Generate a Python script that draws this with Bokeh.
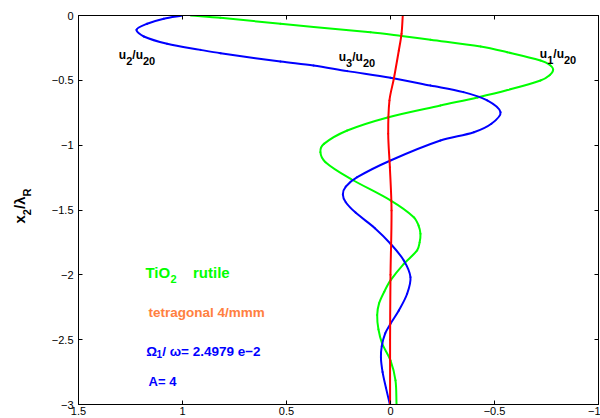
import math
from bokeh.plotting import figure
from bokeh.layouts import row
from bokeh.models import Range1d, FixedTicker, LinearAxis, Label, ColumnDataSource
from bokeh.embed import file_html
from bokeh.resources import INLINE

# ---------------- data ----------------
# u1/u20 (green)
u1_depth = [0, -0.018, -0.064, -0.129, -0.158, -0.187, -0.239, -0.283, -0.347, -0.38,
            -0.419, -0.46, -0.501, -0.575, -0.632, -0.694, -0.786, -0.887, -0.99,
            -1.054, -1.131, -1.259, -1.426, -1.555, -1.62, -1.683, -1.75, -1.812, -1.915,
            -2.043, -2.13, -2.22, -2.31, -2.42, -2.531, -2.66, -2.814, -3.0]
u1_val = [0.96, 0.817, 0.529, 0.096, -0.053, -0.192, -0.433, -0.561, -0.721, -0.765,
          -0.782, -0.765, -0.721, -0.563, -0.418, -0.24, 0.014, 0.208, 0.32,
          0.337, 0.3125, 0.192, 0.0, -0.112, -0.135, -0.144, -0.14, -0.128, -0.064,
          0.0, 0.03, 0.055, 0.064, 0.058, 0.04, 0.0, -0.024, -0.029]

# u2/u20 (blue)
u2_depth = [0, -0.025, -0.064, -0.110, -0.162, -0.218, -0.265, -0.291, -0.355, -0.386,
            -0.429, -0.480, -0.540, -0.591, -0.655, -0.746, -0.835, -0.90, -0.964, -1.118,
            -1.247, -1.32, -1.38, -1.44, -1.52, -1.64, -1.76, -1.889, -2.018, -2.146,
            -2.275, -2.377, -2.45, -2.55, -2.64, -2.75, -2.87, -3.0]
u2_val = [1.0, 1.09, 1.17, 1.221, 1.186, 1.074, 0.913, 0.817, 0.529, 0.37,
          0.208, 0.0, -0.192, -0.351, -0.465, -0.529, -0.485, -0.401, -0.24, 0.0,
          0.16, 0.215, 0.229, 0.215, 0.168, 0.075, 0.0, -0.064, -0.096, -0.08,
          -0.04, 0.0, 0.025, 0.042, 0.046, 0.038, 0.022, 0.003]

# u3/u20 (red)
u3_depth = [0, -0.141, -0.27, -0.488, -0.655, -0.912, -1.17, -1.503, -2.0, -2.5, -3.0]
u3_val = [-0.059, -0.053, -0.04, -0.016, 0.005, 0.011, 0.003, -0.005, 0.0, 0.002, 0.002]

x_ticks = [1.5, 1, 0.5, 0, -0.5, -1]
x_tick_labels = ["1.5", "1", "0.5", "0", "\u22120.5", "\u22121"]
y_ticks = [0, -0.5, -1, -1.5, -2, -2.5, -3]
y_tick_labels = ["0", "\u22120.5", "\u22121", "\u22121.5", "\u22122", "\u22122.5", "\u22123"]

GREEN = "#00ff00"
BLUE = "#0000ff"
RED = "#ff0000"
ORANGE = "#ff8040"
FONT = "Liberation Sans"

LAB_W = 40

# ---------------- main figure ----------------
p = figure(width=600 - LAB_W, height=418, output_backend="svg", toolbar_location=None,
           x_range=Range1d(1.5, -1), y_range=Range1d(-3, 0),
           min_border_left=78 - LAB_W, min_border_right=2, min_border_top=15,
           min_border_bottom=14,
           background_fill_color="white", border_fill_color="white",
           outline_line_color="black", outline_line_width=1)
p.xgrid.visible = False
p.ygrid.visible = False


def style_axis(ax, ticks, labels, show_labels=True):
    ax.ticker = FixedTicker(ticks=ticks)
    ax.major_tick_in = 4
    ax.major_tick_out = 0
    ax.minor_tick_line_color = None
    ax.axis_line_color = "black"
    ax.major_tick_line_color = "black"
    if show_labels:
        ax.major_label_overrides = {t: l for t, l in zip(ticks, labels)}
        ax.major_label_text_font = FONT
        ax.major_label_text_font_size = "11px"
        ax.major_label_text_color = "black"
    else:
        ax.major_label_overrides = {t: "" for t in ticks}
        ax.major_label_text_font_size = "0px"
        ax.major_label_standoff = 0


style_axis(p.xaxis[0], x_ticks, x_tick_labels)
p.xaxis[0].major_label_standoff = 2
style_axis(p.yaxis[0], y_ticks, y_tick_labels)
p.yaxis[0].major_label_standoff = 5

top_ax = LinearAxis()
style_axis(top_ax, x_ticks, x_tick_labels, show_labels=False)
p.add_layout(top_ax, "above")
right_ax = LinearAxis()
style_axis(right_ax, y_ticks, y_tick_labels, show_labels=False)
p.add_layout(right_ax, "right")

# ---------------- smooth curves (bezier through the read points) ----------------
SX, SY = 208.0, 129.7  # approx px per data unit, used only for tangent weighting


def smooth_curve(fig, xs, ys, color):
    P = list(zip(xs, ys))
    n = len(P)

    def dist(a, b):
        return math.hypot((a[0] - b[0]) * SX, (a[1] - b[1]) * SY)

    d = dict(x0=[], y0=[], x1=[], y1=[], cx0=[], cy0=[], cx1=[], cy1=[])
    for i in range(n - 1):
        p0 = P[i - 1] if i > 0 else P[i]
        p1, p2 = P[i], P[i + 1]
        p3 = P[i + 2] if i + 2 < n else P[i + 1]
        d01, d12, d23 = dist(p0, p1), dist(p1, p2), dist(p2, p3)
        f1 = d12 / (3 * (d01 + d12)) if d01 + d12 > 0 else 0
        f2 = d12 / (3 * (d12 + d23)) if d12 + d23 > 0 else 0
        d["x0"].append(p1[0]); d["y0"].append(p1[1])
        d["x1"].append(p2[0]); d["y1"].append(p2[1])
        d["cx0"].append(p1[0] + (p2[0] - p0[0]) * f1)
        d["cy0"].append(p1[1] + (p2[1] - p0[1]) * f1)
        d["cx1"].append(p2[0] - (p3[0] - p1[0]) * f2)
        d["cy1"].append(p2[1] - (p3[1] - p1[1]) * f2)
    fig.bezier(x0="x0", y0="y0", x1="x1", y1="y1", cx0="cx0", cy0="cy0", cx1="cx1", cy1="cy1",
               source=ColumnDataSource(d), line_color=color, line_width=2, line_cap="round")


smooth_curve(p, u1_val, u1_depth, GREEN)
smooth_curve(p, u2_val, u2_depth, BLUE)
smooth_curve(p, u3_val, u3_depth, RED)

# ---------------- rich text helper ----------------
W = {'u': 611, '/': 278, 'x': 556, 'R': 722, '\u03bb': 556, 'T': 611, 'i': 278, 'O': 778,
     ' ': 278, 'r': 389, 't': 333, 'l': 278, 'e': 556, '\u03a9': 768, '\u03c9': 780,
     '=': 584, '.': 278, '\u2212': 584, 'A': 722}


def rich(fig, x, y, pieces, color, size, sub_size, drop, angle=0.0):
    adv = 0.0
    for txt, sub in pieces:
        fs = sub_size if sub else size
        dy = -drop if sub else 0
        if angle == 0.0:
            xo, yo = adv, dy
        else:
            xo, yo = -dy, adv
        fig.add_layout(Label(x=x, y=y, x_offset=xo, y_offset=yo, text=txt, angle=angle,
                             text_font=FONT, text_font_size=f"{fs}px", text_font_style="bold",
                             text_color=color, text_align="left", text_baseline="alphabetic"))
        adv += sum(W.get(c, 556) for c in txt) / 1000.0 * fs


u_pieces = lambda k: [("u", False), (k, True), ("/u", False), ("20", True)]
rich(p, 1.306, -0.308, u_pieces("2"), "black", 12, 11, 6)
rich(p, 0.2486, -0.3215, u_pieces("3"), "black", 12, 11, 6)
rich(p, -0.718, -0.295, u_pieces("1"), "black", 12, 11, 6)

rich(p, 1.178, -1.979, [("TiO", False), ("2", True)], GREEN, 15, 11, 7)
p.add_layout(Label(x=1.178, y=-1.979, x_offset=47.5, text="rutile", text_font=FONT,
                   text_font_size="15px", text_font_style="bold", text_color=GREEN,
                   text_baseline="alphabetic"))
p.add_layout(Label(x=1.163, y=-2.288, text="tetragonal 4/mmm", text_font=FONT,
                   text_font_size="13.5px", text_font_style="bold", text_color=ORANGE,
                   text_baseline="alphabetic"))
rich(p, 1.1745, -2.5906, [("\u03a9", False), ("1", True), ("/ \u03c9= 2.4979 e\u22122", False)],
     BLUE, 13.5, 10, 3)
p.add_layout(Label(x=1.163, y=-2.822, text="A= 4", text_font=FONT,
                   text_font_size="13px", text_font_style="bold", text_color=BLUE,
                   text_baseline="alphabetic"))

# ---------------- y-axis title panel (x2/lambda_R, rotated) ----------------
lab = figure(width=LAB_W, height=418, output_backend="svg", toolbar_location=None,
             x_range=Range1d(0, LAB_W), y_range=Range1d(418, 0),
             min_border=0, x_axis_location=None, y_axis_location=None,
             outline_line_color=None, background_fill_color="white",
             border_fill_color="white")
lab.xgrid.visible = False
lab.ygrid.visible = False
rich(lab, 18.5, 223.5, [("x", False), ("2", True), ("/", False), ("\u03bb", False), ("R", True)],
     "black", 15, 11, 7.5, angle=math.pi / 2)

layout = row(lab, p, spacing=0)
open("out.html", "w").write(file_html(layout, INLINE))
